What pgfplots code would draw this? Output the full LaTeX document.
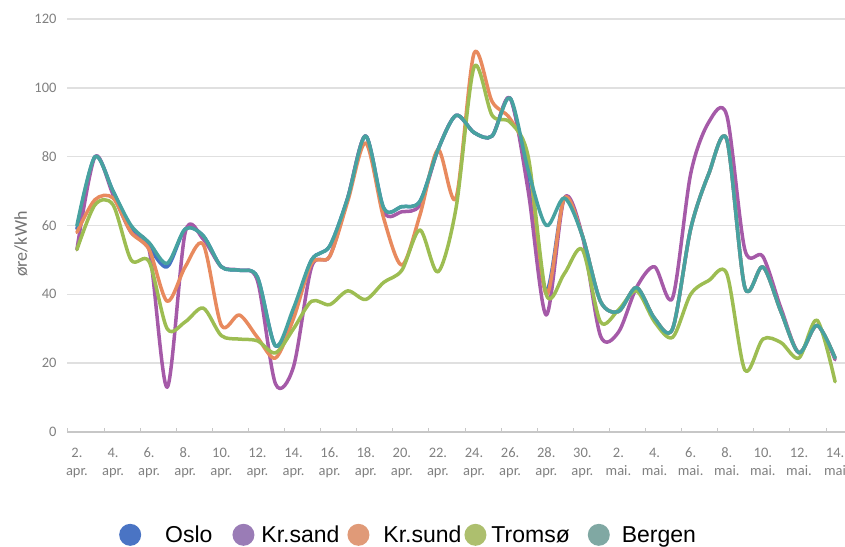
\documentclass[border=0pt]{standalone}
\usepackage{fontspec}
\setmainfont{Carlito}
\newfontfamily\legfont{Liberation Sans}
\usepackage{pgfplots}
\usepackage{pgfplotstable}
\pgfplotsset{compat=1.18}
\definecolor{cOslo}{HTML}{4472C4}
\definecolor{cKrsand}{HTML}{A55AA8}
\definecolor{cKrsund}{HTML}{E88A5E}
\definecolor{cTromso}{HTML}{9DBD52}
\definecolor{cBergen}{HTML}{47A2A0}
\definecolor{lOslo}{HTML}{4A74C4}
\definecolor{lKrsand}{HTML}{9A7CB6}
\definecolor{lKrsund}{HTML}{E09A78}
\definecolor{lTromso}{HTML}{ADBF6E}
\definecolor{lBergen}{HTML}{80A8A3}
\pgfplotstableread{
d O P K T B
0 59 53 58 53 60
1 80 80 67.5 66 80
2 70 69 68 66 70
3 59 58 58 50 60
4 53.5 53 53 49.5 55
5 48 13 38 30 49
6 59 58 48 32 59
7 57 56 54.5 36 57
8 48 48 31 28 48
9 47 47 34 27 47
10 45 44 27.5 26.5 45
11 25 14 21.5 23 25
12 35 19 33 30 36
13 50 48 49 38 50
14 54 51 51 37 54
15 68 68 67 41 68
16 86 86 84 38.5 86
17 65 64 62 43.5 65
18 65.5 64 48.5 47 65.5
19 67 66 63 58.7 67
20 82 82 82 46.5 82
21 92 92 68 65 92
22 87 87 110 106 87
23 86 86 96 92 86
24 97 97 91 90 97
25 72 70 79 80 76
26 41 34 40 40 60
27 68 68 68 46 68
28 57 57 57 53 57
29 38 28 38 32 38
30 35 29 35 35.5 35
31 42 42 42 41 42
32 33 48 33 32 33
33 30 39 30 27.5 30
34 59 75 59 40 59
35 75 90 75 44 75
36 85 92 85 46 85
37 42 53 42 18 42
38 48 51 48 27 48
39 35 36 35 26 35
40 23 23 23 21.5 23
41 31 31 31 32.5 31
42 21.5 21 21.5 14.6 21.5
}\data
\begin{document}
\begin{tikzpicture}[x=1pt,y=1pt]
\path[use as bounding box] (0,0) rectangle (845,546);
\begin{axis}[
  at={(67pt,114pt)}, anchor=south west,
  scale only axis, width=778pt, height=413pt,
  xmin=-0.55, xmax=42.55, ymin=0, ymax=120,
  axis x line*=bottom, axis y line*=left,
  y axis line style={draw=none},
  x axis line style={draw=black!22, line width=1.2pt, -},
  ytick={0,20,...,120}, ytick style={draw=none},
  ymajorgrids, grid style={draw=black!12, line width=1.4pt},
  tick align=inside,
  xtick={-0.5,1.5,...,41.5}, xticklabels={},
  xtick style={draw=black!22, line width=1pt},
  major tick length=4pt,
  extra x ticks={0,2,...,42},
  extra x tick labels={2.\\apr.,4.\\apr.,6.\\apr.,8.\\apr.,10.\\apr.,12.\\apr.,14.\\apr.,16.\\apr.,18.\\apr.,20.\\apr.,22.\\apr.,24.\\apr.,26.\\apr.,28.\\apr.,30.\\apr.,2.\\mai.,4.\\mai.,6.\\mai.,8.\\mai.,10.\\mai.,12.\\mai.,14.\\mai},
  extra x tick style={major tick length=0pt, grid=none},
  x tick label style={align=center, font=\fontsize{14.5}{18}\selectfont, text=black!50, yshift=-12.5pt},
  y tick label style={font=\fontsize{14.5}{17}\selectfont, text=black!50, xshift=-7pt},
  /pgf/number format/assume math mode=true,
  ylabel={øre/kWh},
  ylabel style={at={(axis description cs:-0.059,0.455)}, anchor=center, font=\fontsize{18}{20}\selectfont, text=black!55},
  legend columns=5,
  legend style={at={(axis description cs:0.0668,-0.249)}, anchor=west, draw=none, fill=none,
    inner sep=0pt, font=\legfont\fontsize{23}{23}\selectfont,
    cells={anchor=base west}, nodes={inner sep=0pt},
    /tikz/every even column/.append style={column sep=0pt},
    /tikz/every odd column/.append style={column sep=0pt}},
  legend image code/.code={\fill[#1, draw=none] (11pt,8pt) circle (11pt);},
  every axis plot/.append style={line width=3.5pt, smooth, line join=round, line cap=round},
]
\addplot[color=cOslo, legend image post style={fill=lOslo}] table[x=d,y=O]{\data};
\addlegendentry{\rule{24pt}{0pt}Oslo\rule{20pt}{0pt}}
\addplot[color=cKrsand, legend image post style={fill=lKrsand}] table[x=d,y=P]{\data};
\addlegendentry{\rule{7pt}{0pt}Kr.sand\rule{8pt}{0pt}}
\addplot[color=cKrsund, legend image post style={fill=lKrsund}] table[x=d,y=K]{\data};
\addlegendentry{\rule{14pt}{0pt}Kr.sund\rule{3pt}{0pt}}
\addplot[color=cTromso, legend image post style={fill=lTromso}] table[x=d,y=T]{\data};
\addlegendentry{\rule{5pt}{0pt}Tromsø\rule{18pt}{0pt}}
\addplot[color=cBergen, legend image post style={fill=lBergen}] table[x=d,y=B]{\data};
\addlegendentry{\rule{12pt}{0pt}Bergen}
\end{axis}
\end{tikzpicture}
\end{document}
